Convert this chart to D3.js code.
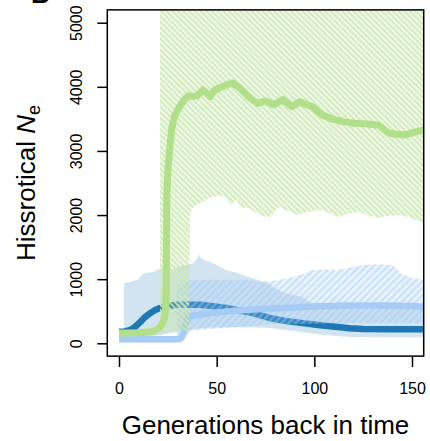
<!DOCTYPE html>
<html>
<head>
<meta charset="utf-8">
<script src="https://cdn.jsdelivr.net/npm/d3@7"></script>
<style>
  body { margin: 0; background: #fff; }
  text { font-family: "Liberation Sans", Arial, sans-serif; }
</style>
</head>
<body>
<div id="chart"></div>
<script>
// data: [generation, Ne]
const greenLine = [[0,160],[10,165],[15,175],[18,195],[20,230],[21.5,280],[22.8,350],[23.6,450],[24.1,700],[24.3,1500],[24.5,2300],[25,2700],[26,3050],[27,3350],[28.5,3550],[31,3690],[33,3780],[35.5,3860],[38,3850],[40,3860],[43,3950],[45,3900],[46.6,3850],[49,3950],[52,3990],[55,4030],[58,4060],[61,4000],[64,3920],[66,3850],[71,3740],[75,3780],[79,3720],[84,3800],[88.6,3690],[92.7,3770],[96,3720],[99,3690],[104,3560],[109,3500],[114,3460],[121,3430],[127,3420],[133,3400],[138,3280],[142,3260],[146.5,3250],[151,3290],[156,3330]];
const greenLower = [[21,150],[24,170],[30,180],[35.8,200],[36.4,2030],[37.5,2110],[41.5,2190],[46.6,2270],[51.7,2310],[54,2280],[57,2160],[60.4,2240],[62,2130],[67,2100],[72,2000],[77,1960],[82,2130],[87,2060],[91,2000],[97,2050],[103,2080],[108,2030],[111.6,1970],[116,2010],[121.9,2050],[127,2000],[132,1955],[138,1990],[144,2000],[149,1960],[154,1890],[156,1900]];
const greenUpper = 9000;

const darkLine = [[0,180],[3,185],[6,210],[8,250],[10.8,330],[13,400],[16,470],[18,510],[21,550],[25,580],[30,600],[35,605],[41.5,600],[48,580],[55,550],[62,510],[68.6,470],[77,395],[85,350],[94,315],[103,280],[112,255],[118,235],[125,222],[140,220],[156,220]];
const darkUpper = [[2.6,940],[5,950],[8,980],[10,1000],[12,1080],[15,1100],[18,1120],[21,1170],[25,1170],[28,1150],[31,1200],[35,1220],[38,1250],[40,1320],[41,1380],[42,1330],[44,1290],[46.6,1270],[50,1220],[55,1140],[60,1100],[63.5,1065],[70,1000],[76,940],[80,860],[85,780],[90,750],[94,720],[98,640],[102,610],[110,600],[120,590],[130,590],[140,580],[156,580]];
const darkLower = [[2.6,80],[10,90],[20,120],[30,180],[40,230],[50,250],[60,250],[70,245],[77,240],[85,210],[93,175],[105,130],[118,100],[140,95],[156,95]];

const lightLine = [[0,65],[20,65],[31,65],[32,90],[33,160],[34,300],[35,390],[36,415],[40,440],[47,470],[55,495],[63,515],[76,540],[90,560],[100,575],[118,590],[135,590],[150,580],[156,570]];
const lightUpper = [[29.5,900],[32,950],[36,980],[45,990],[55,990],[65,990],[72,955],[80,980],[87,1020],[93,1065],[99,1140],[105,1150],[112,1140],[118,1180],[125,1220],[133,1230],[140,1220],[145,1065],[150,1020],[156,990]];
const lightLower = [[29.5,40],[32,50],[34,100],[37,200],[45,220],[60,250],[80,300],[100,310],[130,320],[156,320]];

const xTicks = [0, 50, 100, 150];
const yTicks = [0, 1000, 2000, 3000, 4000, 5000];

const W = 430, H = 441;

const svg = d3.select("#chart").append("svg")
  .attr("width", W).attr("height", H);

const x = d3.scaleLinear().domain([0, 150]).range([119, 412]);
const y = d3.scaleLinear().domain([0, 5000]).range([343.3, 22.7]);

const boxL = x(-6), boxR = x(156), boxT = y(5200), boxB = y(-200);

const defs = svg.append("defs");
defs.append("clipPath").attr("id", "plotclip")
  .append("rect")
  .attr("x", boxL).attr("y", boxT)
  .attr("width", boxR - boxL).attr("height", boxB - boxT);

// hatching like R polygon(density=...)
function hatch(id, gap, angle, color, width) {
  const p = defs.append("pattern")
    .attr("id", id)
    .attr("patternUnits", "userSpaceOnUse")
    .attr("width", gap).attr("height", gap)
    .attr("patternTransform", `rotate(${angle})`);
  p.append("line")
    .attr("x1", gap / 2).attr("x2", gap / 2)
    .attr("y1", 0).attr("y2", gap)
    .attr("stroke", color).attr("stroke-width", width);
}
hatch("hatchGreen", 4, -45, "#cfe9b8", 1.7);
hatch("hatchBlue", 5, 45, "rgba(160,200,245,0.5)", 2.2);

const plot = svg.append("g").attr("clip-path", "url(#plotclip)");

function band(upper, lower) {
  const pts = upper.map(d => [x(d[0]), y(d[1])])
    .concat(lower.slice().reverse().map(d => [x(d[0]), y(d[1])]));
  return "M" + pts.map(p => p.join(",")).join("L") + "Z";
}

const line = d3.line().x(d => x(d[0])).y(d => y(d[1]));

// dark blue band (solid)
plot.append("path")
  .attr("d", band(darkUpper, darkLower))
  .attr("fill", "#1f78b4").attr("fill-opacity", 0.2);

// dark blue line
plot.append("path")
  .attr("d", line(darkLine))
  .attr("fill", "none").attr("stroke", "#1f78b4")
  .attr("stroke-width", 6.5).attr("stroke-linejoin", "round");

// light blue band (hatched)
plot.append("path")
  .attr("d", band(lightUpper, lightLower))
  .attr("fill", "#a6cbf5").attr("fill-opacity", 0.2);
plot.append("path")
  .attr("d", band(lightUpper, lightLower))
  .attr("fill", "url(#hatchBlue)");

// light blue line
plot.append("path")
  .attr("d", line(lightLine))
  .attr("fill", "none").attr("stroke", "#a6cbf5")
  .attr("stroke-width", 6.5).attr("stroke-linejoin", "round");

// green band (hatched)
const gUp = greenLower.map(d => [d[0], greenUpper]);
plot.append("path")
  .attr("d", band(gUp, greenLower))
  .attr("fill", "#b2df8a").attr("fill-opacity", 0.2);
plot.append("path")
  .attr("d", band(gUp, greenLower))
  .attr("fill", "url(#hatchGreen)");

// green line
plot.append("path")
  .attr("d", line(greenLine))
  .attr("fill", "none").attr("stroke", "#b2df8a")
  .attr("stroke-width", 7).attr("stroke-linejoin", "round");

// box
svg.append("rect")
  .attr("x", boxL).attr("y", boxT)
  .attr("width", boxR - boxL).attr("height", boxB - boxT)
  .attr("fill", "none").attr("stroke", "#000").attr("stroke-width", 1.5);

// axes
const yAxis = svg.append("g")
  .attr("transform", `translate(${boxL},0)`)
  .call(d3.axisLeft(y).tickValues(yTicks).tickSize(10).tickSizeOuter(0).tickFormat(d3.format("d")));
yAxis.select(".domain").remove();
yAxis.selectAll("line").attr("stroke-width", 1.5);
yAxis.selectAll("text")
  .attr("x", null).attr("dy", null)
  .attr("text-anchor", "middle")
  .attr("transform", "translate(-25,0) rotate(-90)")
  .attr("font-size", 16).attr("fill", "#000")
  .style("font-family", "'Liberation Sans', Arial, sans-serif");

const xAxis = svg.append("g")
  .attr("transform", `translate(0,357)`)
  .call(d3.axisBottom(x).tickValues(xTicks).tickSize(10).tickSizeOuter(0));
xAxis.select(".domain").remove();
xAxis.selectAll("line").attr("stroke-width", 1.5);
xAxis.selectAll("text")
  .attr("y", 26)
  .attr("font-size", 16).attr("fill", "#000")
  .style("font-family", "'Liberation Sans', Arial, sans-serif");

// titles
svg.append("text")
  .attr("x", (boxL + boxR) / 2).attr("y", 434)
  .attr("text-anchor", "middle")
  .attr("font-size", 26)
  .text("Generations back in time");

const yt = svg.append("text")
  .attr("transform", "translate(35,183) rotate(-90)")
  .attr("text-anchor", "middle")
  .attr("font-size", 26);
yt.append("tspan").text("Hissrotical ");
yt.append("tspan").attr("font-style", "italic").text("N");
yt.append("tspan").attr("font-size", 18).attr("dy", 5).text("e");

// panel letter, mostly cut off at the top
svg.append("text")
  .attr("x", 31).attr("y", 3)
  .attr("font-size", 26).attr("font-weight", "bold")
  .text("B");
</script>
</body>
</html>
